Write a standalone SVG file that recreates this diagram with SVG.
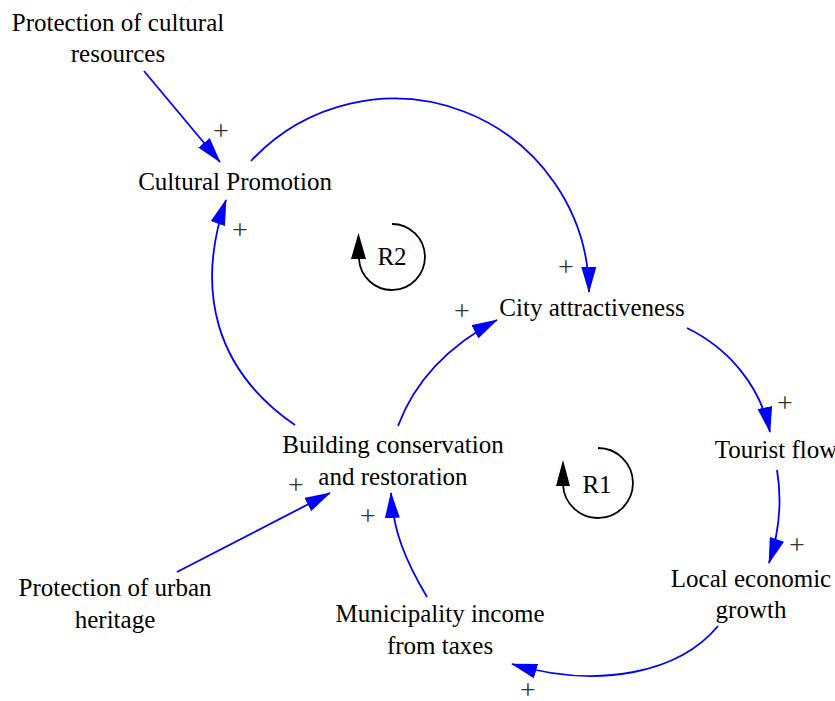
<svg xmlns="http://www.w3.org/2000/svg" width="835" height="701" viewBox="0 0 835 701">
<defs>
<style>
.lbl{font-family:"Liberation Serif","Times New Roman",serif;font-size:25px;fill:#000;text-anchor:middle}
.pl{font-family:"Liberation Serif","Times New Roman",serif;font-size:28px;fill:#333;text-anchor:middle}
.c{fill:none;stroke:#0000ff;stroke-width:1.8}
.loop{fill:none;stroke:#000;stroke-width:1.8}
</style>
<marker id="ah" markerUnits="userSpaceOnUse" viewBox="0 0 26 15" markerWidth="26" markerHeight="15" refX="25" refY="7.5" orient="auto">
<path d="M0,0 L26,7.5 L0,15 z" fill="#0000ff"/>
</marker>
</defs>
<rect width="835" height="701" fill="#fff"/>
<g id="connectors">
<path class="c" marker-end="url(#ah)" d="M144,71 L220,162"/>
<path class="c" marker-end="url(#ah)" d="M251,161 A195,195 0 0 1 589,292"/>
<path class="c" marker-end="url(#ah)" d="M687,328 C728,348 760,385 770,432"/>
<path class="c" marker-end="url(#ah)" d="M777,470 C782,500 780,530 769,563"/>
<path class="c" marker-end="url(#ah)" d="M718,626 C680,672 600,690 512,664"/>
<path class="c" marker-end="url(#ah)" d="M427,597 C405,560 393,530 391,493"/>
<path class="c" marker-end="url(#ah)" d="M177,572 L330,493"/>
<path class="c" marker-end="url(#ah)" d="M295,425 C215,370 195,290 226,200"/>
<path class="c" marker-end="url(#ah)" d="M398,426 C415,380 450,345 497,320"/>
</g>
<g id="polarities">
<text class="pl" x="221" y="140">+</text>
<text class="pl" x="240" y="239">+</text>
<text class="pl" x="566" y="276">+</text>
<text class="pl" x="462" y="320">+</text>
<text class="pl" x="785" y="412">+</text>
<text class="pl" x="797" y="554">+</text>
<text class="pl" x="296" y="494">+</text>
<text class="pl" x="368" y="525">+</text>
<text class="pl" x="528" y="699">+</text>
</g>
<g id="node-protection-cultural"><text class="lbl" x="118" y="31">Protection of cultural</text><text class="lbl" x="118" y="62">resources</text></g>
<g id="node-cultural-promotion"><text class="lbl" x="235" y="190">Cultural Promotion</text></g>
<g id="node-city-attractiveness"><text class="lbl" x="592" y="316">City attractiveness</text></g>
<g id="node-tourist-flow"><text class="lbl" x="776" y="458">Tourist flow</text></g>
<g id="node-local-economic-growth"><text class="lbl" x="751" y="587">Local economic</text><text class="lbl" x="751" y="618">growth</text></g>
<g id="node-municipality-income"><text class="lbl" x="440" y="622">Municipality income</text><text class="lbl" x="440" y="654">from taxes</text></g>
<g id="node-building-conservation"><text class="lbl" x="393" y="453">Building conservation</text><text class="lbl" x="393" y="485">and restoration</text></g>
<g id="node-protection-urban"><text class="lbl" x="115" y="596">Protection of urban</text><text class="lbl" x="115" y="628">heritage</text></g>
<g id="loop-R2">
<path class="loop" d="M392,224 A33,33 0 1 1 359,259"/>
<polygon points="358.5,233 351,259 366,259" fill="#000"/>
<text class="lbl" x="392" y="265">R2</text>
</g>
<g id="loop-R1">
<path class="loop" d="M598,448 A35,35 0 1 1 563,485"/>
<polygon points="563,460 556,486 570,486" fill="#000"/>
<text class="lbl" x="597" y="493">R1</text>
</g>
</svg>
